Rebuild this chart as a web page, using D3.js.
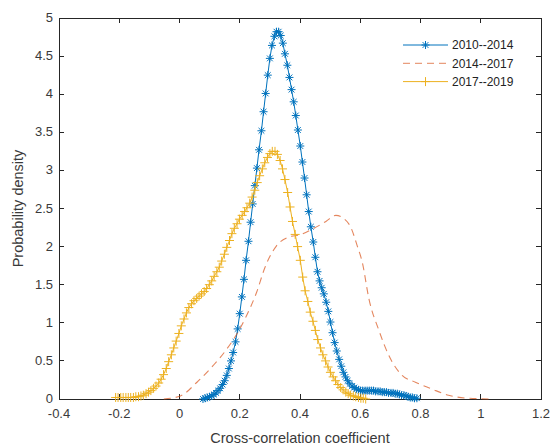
<!DOCTYPE html>
<html>
<head>
<meta charset="utf-8">
<script src="https://cdn.jsdelivr.net/npm/d3@7"></script>
<style>
  html, body { margin: 0; padding: 0; background: #fff; }
  svg { display: block; font-family: "Liberation Sans", Arial, sans-serif; }
</style>
</head>
<body>
<div id="chart"></div>
<script>
// kernel density estimates
var periods = ["2010--2014", "2014--2017", "2017--2019"];

var blueX = [0.078,0.085,0.092,0.100,0.107,0.114,0.121,0.128,0.135,0.143,
  0.150,0.157,0.164,0.171,0.178,0.186,0.193,0.200,0.207,0.214,
  0.221,0.229,0.236,0.243,0.250,0.257,0.264,0.272,0.279,0.286,
  0.293,0.300,0.307,0.315,0.322,0.329,0.336,0.343,0.350,0.358,
  0.365,0.372,0.379,0.386,0.393,0.401,0.408,0.415,0.422,0.429,
  0.436,0.444,0.451,0.458,0.465,0.472,0.479,0.487,0.494,0.501,
  0.508,0.515,0.522,0.530,0.537,0.544,0.551,0.558,0.565,0.573,
  0.580,0.587,0.594,0.601,0.608,0.616,0.623,0.630,0.637,0.644,
  0.651,0.659,0.666,0.673,0.680,0.687,0.694,0.702,0.709,0.716,
  0.723,0.730,0.737,0.745,0.752,0.759,0.766,0.773,0.780,0.788];
var blueY = [0.00,0.01,0.02,0.03,0.04,0.06,0.08,0.11,0.14,0.19,
  0.24,0.31,0.40,0.50,0.61,0.75,0.92,1.12,1.34,1.57,
  1.82,2.07,2.32,2.56,2.80,3.03,3.27,3.52,3.77,4.01,
  4.25,4.47,4.64,4.76,4.82,4.82,4.77,4.67,4.53,4.38,
  4.22,4.06,3.90,3.72,3.53,3.32,3.11,2.90,2.68,2.46,
  2.26,2.06,1.86,1.67,1.55,1.46,1.38,1.27,1.15,1.01,
  0.87,0.74,0.63,0.52,0.43,0.35,0.29,0.24,0.20,0.17,
  0.15,0.13,0.12,0.11,0.11,0.11,0.11,0.11,0.11,0.11,
  0.10,0.10,0.10,0.09,0.09,0.09,0.08,0.08,0.08,0.07,
  0.07,0.06,0.05,0.05,0.04,0.03,0.02,0.02,0.01,0.01];

var orangeX = [-0.052,0.003,0.058,0.112,0.156,0.200,0.222,0.256,0.283,0.322,
  0.360,0.404,0.442,0.486,0.519,0.541,0.569,0.590,0.607,0.629,
  0.662,0.695,0.739,0.783,0.838,0.893,0.948,1.030];
var orangeY = [0.00,0.04,0.22,0.44,0.65,0.92,1.09,1.40,1.72,2.01,
  2.12,2.16,2.23,2.33,2.41,2.38,2.25,2.01,1.79,1.31,
  0.90,0.57,0.31,0.22,0.13,0.05,0.013,0.00];

var yellowX = [-0.212,-0.204,-0.195,-0.187,-0.178,-0.170,-0.162,-0.153,-0.145,-0.136,
  -0.128,-0.120,-0.111,-0.103,-0.095,-0.086,-0.078,-0.069,-0.061,-0.053,
  -0.044,-0.036,-0.027,-0.019,-0.011,-0.002,0.006,0.015,0.023,0.031,
  0.040,0.048,0.057,0.065,0.073,0.082,0.090,0.099,0.107,0.115,
  0.124,0.132,0.140,0.149,0.157,0.166,0.174,0.182,0.191,0.199,
  0.208,0.216,0.224,0.233,0.241,0.250,0.258,0.266,0.275,0.283,
  0.292,0.300,0.308,0.317,0.325,0.334,0.342,0.350,0.359,0.367,
  0.375,0.384,0.392,0.401,0.409,0.417,0.426,0.434,0.443,0.451,
  0.459,0.468,0.476,0.485,0.493,0.501,0.510,0.518,0.526,0.535,
  0.543,0.552,0.560,0.568,0.577,0.585,0.594,0.602,0.610,0.618];
var yellowY = [0.02,0.02,0.02,0.02,0.02,0.02,0.02,0.02,0.03,0.03,
  0.04,0.05,0.07,0.09,0.11,0.14,0.17,0.21,0.26,0.32,
  0.40,0.49,0.58,0.67,0.76,0.86,0.96,1.05,1.13,1.20,
  1.25,1.29,1.32,1.35,1.38,1.41,1.45,1.50,1.55,1.61,
  1.67,1.73,1.81,1.90,1.99,2.08,2.17,2.24,2.30,2.36,
  2.41,2.46,2.51,2.57,2.65,2.74,2.84,2.93,3.02,3.10,
  3.17,3.22,3.25,3.25,3.21,3.13,3.02,2.88,2.71,2.52,
  2.33,2.16,2.00,1.82,1.60,1.42,1.28,1.14,1.02,0.90,
  0.78,0.67,0.58,0.50,0.42,0.35,0.29,0.24,0.19,0.15,
  0.12,0.09,0.07,0.05,0.04,0.03,0.02,0.01,0.01,0.00];

var xTicks = [-0.4,-0.2,0,0.2,0.4,0.6,0.8,1,1.2];
var yTicks = [0,0.5,1,1.5,2,2.5,3,3.5,4,4.5,5];

(function () {
  var W = 550, H = 447;
  var L = 59, R = 541, T = 18, B = 399;
  var svg = d3.select("#chart").append("svg")
    .attr("width", W).attr("height", H);

  var x = d3.scaleLinear().domain([-0.4, 1.2]).range([L, R]);
  var y = d3.scaleLinear().domain([0, 5]).range([B, T]);
  var ink = "#262626", txt = "#3a3a3a";

  function zip(xs, ys) { return xs.map(function (v, i) { return [v, ys[i]]; }); }
  var series = [
    { name: periods[0], pts: zip(blueX, blueY), color: "#0072BD", marker: "star" },
    { name: periods[1], pts: zip(orangeX, orangeY), color: "#D95319", dash: "7,5" },
    { name: periods[2], pts: zip(yellowX, yellowY), color: "#EDB120", marker: "plus" }
  ];

  function markPath(kind, r) {
    if (kind === "plus") return "M" + (-r) + ",0H" + r + "M0," + (-r) + "V" + r;
    var d = r * 0.72;
    return "M" + (-r) + ",0H" + r + "M0," + (-r) + "V" + r +
      "M" + (-d) + "," + (-d) + "L" + d + "," + d +
      "M" + (-d) + "," + d + "L" + d + "," + (-d);
  }

  // axes box with inward ticks on all four sides (MATLAB style)
  var ax = svg.append("g").attr("stroke", ink).attr("stroke-width", 1)
    .attr("shape-rendering", "crispEdges");
  ax.append("rect").attr("x", L).attr("y", T)
    .attr("width", R - L).attr("height", B - T).attr("fill", "none");
  xTicks.forEach(function (t) {
    ax.append("line").attr("x1", x(t)).attr("x2", x(t)).attr("y1", B).attr("y2", B - 5);
    ax.append("line").attr("x1", x(t)).attr("x2", x(t)).attr("y1", T).attr("y2", T + 5);
  });
  yTicks.forEach(function (t) {
    ax.append("line").attr("x1", L).attr("x2", L + 5).attr("y1", y(t)).attr("y2", y(t));
    ax.append("line").attr("x1", R).attr("x2", R - 5).attr("y1", y(t)).attr("y2", y(t));
  });

  svg.append("g").selectAll("text").data(xTicks).join("text")
    .attr("x", function (d) { return x(d); }).attr("y", B + 18.5)
    .attr("text-anchor", "middle").attr("font-size", "13px").attr("fill", txt)
    .text(function (d) { return String(d); });
  svg.append("g").selectAll("text").data(yTicks).join("text")
    .attr("x", L - 6).attr("y", function (d) { return y(d) + 4; })
    .attr("text-anchor", "end").attr("font-size", "13px").attr("fill", txt)
    .text(function (d) { return String(d); });

  svg.append("text").attr("x", (L + R) / 2).attr("y", 443)
    .attr("text-anchor", "middle").attr("font-size", "14.5px").attr("fill", txt)
    .text("Cross-correlation coefficient");
  svg.append("text").attr("transform", "translate(23," + ((T + B) / 2) + ") rotate(-90)")
    .attr("text-anchor", "middle").attr("font-size", "14.5px").attr("fill", txt)
    .text("Probability density");

  var line = d3.line().x(function (d) { return x(d[0]); }).y(function (d) { return y(d[1]); });
  var smooth = d3.line().curve(d3.curveMonotoneX)
    .x(function (d) { return x(d[0]); }).y(function (d) { return y(d[1]); });

  var plot = svg.append("g");
  series.forEach(function (s) {
    plot.append("path").datum(s.pts)
      .attr("d", s.dash ? smooth : line)
      .attr("fill", "none").attr("stroke", s.color)
      .attr("stroke-width", s.dash ? 1.1 : 1)
      .attr("stroke-opacity", s.dash ? 0.7 : 1)
      .attr("stroke-dasharray", s.dash || null);
    if (s.marker) {
      plot.append("g").selectAll("path").data(s.pts).join("path")
        .attr("transform", function (d) { return "translate(" + x(d[0]) + "," + y(d[1]) + ")"; })
        .attr("d", markPath(s.marker, s.marker === "plus" ? 4.5 : 4))
        .attr("fill", "none").attr("stroke", s.color).attr("stroke-width", 1);
    }
  });

  // legend, no frame
  var lg = svg.append("g");
  series.forEach(function (s, i) {
    var yy = 45 + i * 18.3;
    lg.append("line").attr("x1", 403).attr("x2", 448).attr("y1", yy).attr("y2", yy)
      .attr("stroke", s.color).attr("stroke-width", 1)
      .attr("stroke-opacity", s.dash ? 0.7 : 1)
      .attr("stroke-dasharray", s.dash || null);
    if (s.marker) {
      lg.append("path").attr("transform", "translate(425.5," + yy + ")")
        .attr("d", markPath(s.marker, s.marker === "plus" ? 4.5 : 4))
        .attr("fill", "none").attr("stroke", s.color).attr("stroke-width", 1);
    }
    lg.append("text").attr("x", 452).attr("y", yy + 4.3)
      .attr("font-size", "12px").attr("fill", "#222").text(s.name);
  });
})();
</script>
</body>
</html>
